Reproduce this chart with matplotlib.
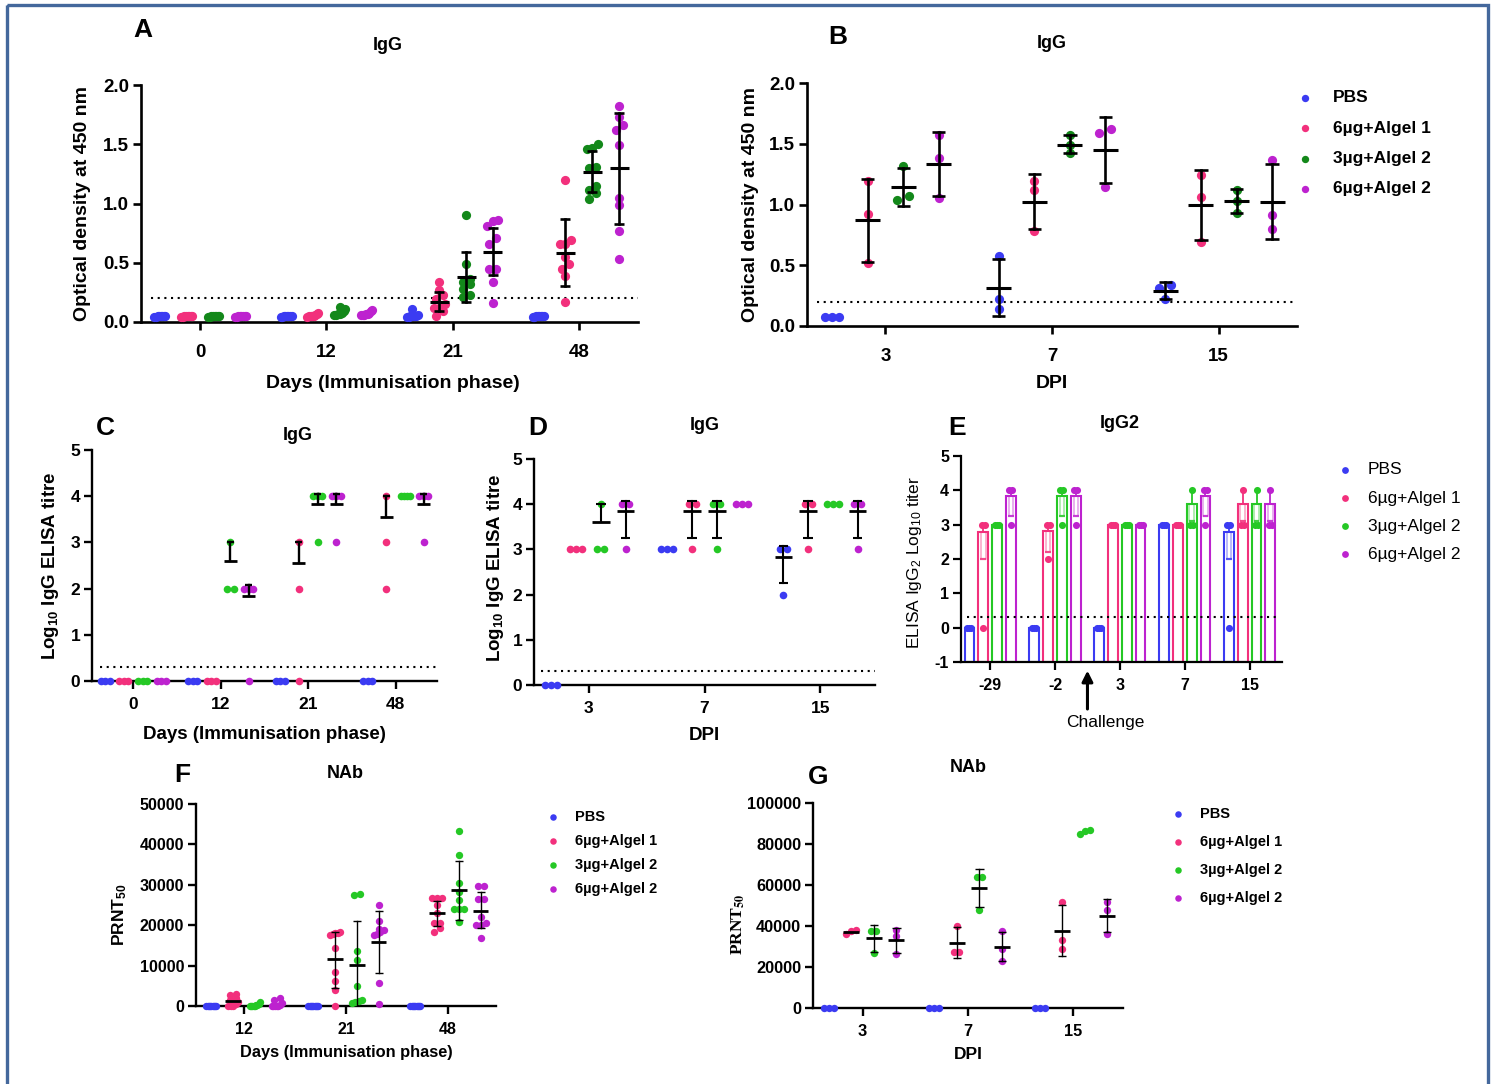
import matplotlib

matplotlib.use("Agg")

import matplotlib.pyplot as plt
import numpy as np
from matplotlib.patches import Rectangle

W, H = 1497, 1084

plt.rcParams.update({
    "font.family": "Liberation Sans",
    "mathtext.fontset": "custom",
    "mathtext.rm": "Liberation Sans",
    "mathtext.bf": "Liberation Sans:bold",
    "mathtext.it": "Liberation Sans:italic",
    "figure.facecolor": "white",
})

# --------------------------------------------------------------------------- #
# Data
# --------------------------------------------------------------------------- #
SERIES = ["PBS", "6µg+Algel 1", "3µg+Algel 2", "6µg+Algel 2"]
COL_DARK = ["#3b3bf2", "#f2307c", "#13881a", "#bd22cf"]
COL_LIGHT = ["#3b3bf2", "#f2307c", "#25c825", "#bd22cf"]

# A: IgG OD450, immunisation phase
a_days = ["0", "12", "21", "48"]
a_pbs = [[0.05, 0.05, 0.04, 0.05, 0.05, 0.04, 0.05, 0.05],
         [0.05, 0.05, 0.04, 0.05, 0.05, 0.04, 0.05, 0.05],
         [0.11, 0.06, 0.05, 0.05, 0.04, 0.05, 0.05, 0.04],
         [0.05, 0.05, 0.04, 0.05, 0.05, 0.04, 0.05, 0.05]]
a_alg1 = [[0.05, 0.05, 0.04, 0.05, 0.05, 0.04, 0.05, 0.05],
          [0.08, 0.07, 0.06, 0.05, 0.05, 0.05, 0.04, 0.05],
          [0.34, 0.27, 0.23, 0.19, 0.15, 0.12, 0.12, 0.09, 0.05],
          [1.20, 0.69, 0.66, 0.66, 0.55, 0.49, 0.45, 0.39, 0.17]]
a_alg2_3 = [[0.05, 0.05, 0.04, 0.05, 0.05, 0.04, 0.05, 0.05],
            [0.13, 0.11, 0.09, 0.08, 0.07, 0.07, 0.06, 0.06],
            [0.90, 0.49, 0.36, 0.34, 0.32, 0.28, 0.23, 0.21],
            [1.50, 1.47, 1.46, 1.31, 1.30, 1.15, 1.11, 1.09, 1.04]]
a_alg2_6 = [[0.05, 0.05, 0.04, 0.05, 0.05, 0.04, 0.05, 0.05],
            [0.10, 0.09, 0.08, 0.07, 0.07, 0.06, 0.06, 0.06],
            [0.86, 0.85, 0.81, 0.71, 0.66, 0.45, 0.45, 0.34, 0.16],
            [1.82, 1.73, 1.66, 1.62, 1.49, 1.05, 0.99, 0.77, 0.53]]
a_mean = [[None, None, None, None], [None, None, 0.17, 0.58],
          [None, None, 0.38, 1.27], [None, None, 0.59, 1.30]]
a_lo = [[None, None, None, None], [None, None, 0.09, 0.30],
        [None, None, 0.17, 1.10], [None, None, 0.40, 0.83]]
a_hi = [[None, None, None, None], [None, None, 0.25, 0.87],
        [None, None, 0.59, 1.44], [None, None, 0.79, 1.76]]

# B: IgG OD450, post challenge
b_dpi = ["3", "7", "15"]
b_pbs = [[0.07, 0.07, 0.07], [0.58, 0.22, 0.14], [0.34, 0.31, 0.22]]
b_alg1 = [[1.19, 0.92, 0.52], [1.19, 1.12, 0.78], [1.24, 1.06, 0.69]]
b_alg2_3 = [[1.32, 1.07, 1.04], [1.57, 1.49, 1.42], [1.12, 1.03, 0.93]]
b_alg2_6 = [[1.57, 1.38, 1.05], [1.62, 1.59, 1.14], [1.37, 0.91, 0.80]]
b_mean = [[None, 0.31, 0.29], [0.87, 1.02, 1.00], [1.14, 1.49, 1.03], [1.33, 1.45, 1.02]]
b_lo = [[None, 0.08, 0.22], [0.53, 0.80, 0.71], [0.99, 1.42, 0.93], [1.07, 1.18, 0.72]]
b_hi = [[None, 0.55, 0.36], [1.21, 1.25, 1.28], [1.30, 1.57, 1.13], [1.60, 1.72, 1.33]]

# C: log10 IgG ELISA titre, immunisation phase
c_days = ["0", "12", "21", "48"]
c_pbs = [[0, 0, 0], [0, 0, 0], [0, 0, 0], [0, 0, 0]]
c_alg1 = [[0, 0, 0], [0, 0, 0], [3, 2, 0], [4, 3, 2]]
c_alg2_3 = [[0, 0, 0], [3, 2, 2], [4, 4, 4, 3], [4, 4, 4, 4]]
c_alg2_6 = [[0, 0, 0], [2, 2, 2, 0], [4, 4, 4, 3], [4, 4, 4, 3]]
c_mean = [[None] * 4, [None, None, 2.55, 3.56], [None, 2.60, 3.84, None], [None, 1.83, 3.84, 3.84]]
c_lo = [[None] * 4, [None, None, 2.55, 3.56], [None, 2.60, 3.84, None], [None, 1.83, 3.84, 3.84]]
c_hi = [[None] * 4, [None, None, 3.00, 4.00], [None, 3.00, 4.05, None], [None, 2.07, 4.05, 4.05]]

# D: log10 IgG ELISA titre, post challenge
d_dpi = ["3", "7", "15"]
d_pbs = [[0, 0, 0], [3, 3, 3], [3, 3, 2]]
d_alg1 = [[3, 3, 3], [4, 4, 3], [4, 4, 3]]
d_alg2_3 = [[4, 3, 3], [4, 4, 3], [4, 4, 4]]
d_alg2_6 = [[4, 4, 3], [4, 4, 4], [4, 4, 3]]
d_mean = [[None, None, 2.84], [None, 3.84, 3.84], [3.60, 3.84, None], [3.84, None, 3.84]]
d_lo = [[None, None, 2.25], [None, 3.25, 3.25], [3.60, 3.25, None], [3.25, None, 3.25]]
d_hi = [[None, None, 3.08], [None, 4.08, 4.08], [4.00, 4.08, None], [4.08, None, 4.08]]

# E: IgG2 log10 titre (bars)
e_days = ["-29", "-2", "3", "7", "15"]
e_pbs = [[0, 0, 0], [0, 0, 0], [0, 0, 0], [3, 3, 3], [3, 3, 0]]
e_alg1 = [[3, 3, 0], [3, 3, 2], [3, 3, 3], [3, 3, 3], [4, 3, 3]]
e_alg2_3 = [[3, 3, 3], [4, 4, 3], [3, 3, 3], [4, 3, 3], [4, 3, 3]]
e_alg2_6 = [[4, 4, 3], [4, 4, 3], [3, 3, 3], [4, 4, 3], [4, 3, 3]]
e_mean = [[0, 0, 0, 3.0, 2.8], [2.8, 2.83, 3.0, 3.0, 3.6],
          [3.0, 3.83, 3.0, 3.6, 3.6], [3.83, 3.83, 3.0, 3.83, 3.6]]
e_lo = [[None, None, None, None, 2.0], [2.0, 2.2, None, None, 3.1],
        [None, 3.25, None, 3.1, 3.1], [3.25, 3.25, None, 3.25, 3.1]]
e_hi = [[None, None, None, None, 3.0], [3.0, 3.0, None, None, 4.0],
        [None, 4.0, None, 4.0, 4.0], [4.0, 4.0, None, 4.0, 4.0]]

# F: PRNT50, immunisation phase
f_days = ["12", "21", "48"]
f_pbs = [[0, 0, 0, 0, 0, 0, 0, 0, 0], [0, 0, 0, 0, 0, 0, 0, 0, 0], [0, 0, 0, 0, 0, 0, 0, 0, 0]]
f_alg1 = [[2900, 2800, 1900, 1400, 1000, 400, 0, 0, 0],
          [18300, 18100, 18000, 17800, 17500, 14400, 8300, 6300, 3900, 0],
          [26700, 26700, 26700, 24900, 22900, 20500, 20500, 19200, 18300]]
f_alg2_3 = [[1000, 600, 300, 200, 100, 0, 0, 0, 0],
            [27800, 27500, 13700, 11500, 5000, 1500, 1200, 1000, 800],
            [43400, 37400, 30500, 28200, 26200, 24000, 24000, 24000, 20900]]
f_alg2_6 = [[1900, 1500, 800, 300, 0, 0, 0, 0, 0],
            [24900, 21100, 19100, 18700, 18300, 17900, 17600, 5800, 400],
            [29800, 29800, 26600, 26600, 22000, 20500, 20000, 20000, 16900]]
f_mean = [[None, None, None], [1300, 11600, 23000], [None, 10100, 28700], [None, 15800, 23500]]
f_lo = [[None, None, None], [None, 4500, 19800], [None, -1500, 21200], [None, 8100, 19200]]
f_hi = [[None, None, None], [None, 18300, 26000], [None, 21100, 36000], [None, 23500, 28200]]

# G: PRNT50, post challenge
g_dpi = ["3", "7", "15"]
g_pbs = [[0, 0, 0], [0, 0, 0], [0, 0, 0]]
g_alg1 = [[38200, 37800, 36000], [40000, 27300, 27300], [51500, 33000, 28600]]
g_alg2_3 = [[37800, 37800, 26800], [64000, 64000, 48000], [86700, 86300, 84700]]
g_alg2_6 = [[37900, 35000, 26200], [37400, 28900, 23000], [51500, 47700, 36300]]
g_mean = [[None, None, None], [37300, 31500, 37700], [34000, 58500, None], [33000, 29700, 45100]]
g_lo = [[None, None, None], [None, 24200, 25400], [27500, 49500, None], [27000, 23000, 36900]]
g_hi = [[None, None, None], [None, 39700, 50300], [40400, 68000, None], [38900, 37000, 53300]]

OFFS = [-0.32, -0.107, 0.107, 0.32]
MEAN_HW, CAP_HW = 0.075, 0.04

fig = plt.figure(figsize=(W / 100, H / 100), dpi=100)


def add_ax(l, t, r, b):
    return fig.add_axes([l / W, 1 - b / H, (r - l) / W, (b - t) / H])


def style(ax, labels, ylim, yticks, ylabels, fs, lw, xpad=6):
    for s in ("top", "right"):
        ax.spines[s].set_visible(False)
    for s in ("left", "bottom"):
        ax.spines[s].set_linewidth(lw)
    n = len(labels)
    ax.set_xlim(-0.47, n - 1 + 0.47)
    ax.set_ylim(*ylim)
    ax.set_xticks(range(n))
    ax.set_xticklabels(labels, fontweight="bold", fontsize=fs)
    ax.set_yticks(yticks)
    ax.set_yticklabels(ylabels, fontweight="bold", fontsize=fs)
    ax.tick_params(width=lw, length=5.5, pad=3)
    ax.tick_params(axis="x", pad=xpad)
    ax.patch.set_alpha(0)


def swarm_x(ax, xc, vals, sep, maxw, tol):
    """Spread points that sit on (nearly) the same value into a centred row."""
    to_px = ax.transData.transform
    xpix = to_px((xc, 0))[0]
    ypix = np.array([to_px((xc, v))[1] for v in vals])
    rows = []
    for i in np.argsort(ypix):
        if rows and abs(ypix[i] - ypix[rows[-1][0]]) < tol:
            rows[-1].append(i)
        else:
            rows.append([i])
    xs = np.zeros(len(vals))
    for row in rows:
        m = len(row)
        s = sep if m < 2 else min(sep, maxw / (m - 1))
        for k, i in enumerate(row):
            xs[i] = xpix + (k - (m - 1) / 2) * s
    inv = ax.transData.inverted()
    return [inv.transform((x, 0))[0] for x in xs]


def mean_sd(ax, x, mean, lo, hi, lw_bar, lw_mean, color="black"):
    if mean is None:
        return
    ax.plot([x - MEAN_HW, x + MEAN_HW], [mean, mean], color=color, lw=lw_mean,
            solid_capstyle="butt", zorder=5)
    if lo is None or hi is None:
        return
    ax.plot([x, x], [lo, hi], color=color, lw=lw_bar, zorder=5)
    for v in (lo, hi):
        if v != mean:
            ax.plot([x - CAP_HW, x + CAP_HW], [v, v], color=color, lw=lw_bar,
                    solid_capstyle="butt", zorder=5)


def scatter_panel(ax, pts, means, los, his, colors, s, sep, maxw, tol, lw_bar, lw_mean):
    for j in range(4):
        for g, vals in enumerate(pts[j]):
            xc = g + OFFS[j]
            xs = swarm_x(ax, xc, vals, sep, maxw, tol)
            ax.scatter(xs, vals, s=s, color=colors[j], lw=0, clip_on=False, zorder=3)
            mean_sd(ax, xc, means[j][g], los[j][g], his[j][g], lw_bar, lw_mean)


def dotted(ax, y, x0=0.02, x1=1.0, z=1):
    ax.axhline(y, xmin=x0, xmax=x1, color="black", lw=1.5, ls=(0, (1, 2.2)), zorder=z)


# --------------------------------------------------------------------------- #
# Panel A
# --------------------------------------------------------------------------- #
ax_a = add_ax(141, 85, 638, 322)
style(ax_a, a_days, (0, 2.0), [0, 0.5, 1.0, 1.5, 2.0],
      ["0.0", "0.5", "1.0", "1.5", "2.0"], 13.5, 1.9, xpad=10)
dotted(ax_a, 0.2)
scatter_panel(ax_a, [a_pbs, a_alg1, a_alg2_3, a_alg2_6], a_mean, a_lo, a_hi,
              COL_DARK, 44, 7, 11, 6, 1.9, 2.2)
ax_a.set_xlabel("Days (Immunisation phase)", fontsize=14, fontweight="bold")
ax_a.xaxis.set_label_coords(0.507, -0.225)
ax_a.set_ylabel("Optical density at 450 nm", fontsize=14, fontweight="bold")
ax_a.yaxis.set_label_coords(-0.10, 0.5)

# --------------------------------------------------------------------------- #
# Panel B
# --------------------------------------------------------------------------- #
ax_b = add_ax(807, 83, 1297, 326)
style(ax_b, b_dpi, (0, 2.0), [0, 0.5, 1.0, 1.5, 2.0],
      ["0.0", "0.5", "1.0", "1.5", "2.0"], 13.5, 1.9, xpad=10)
dotted(ax_b, 0.2)
scatter_panel(ax_b, [b_pbs, b_alg1, b_alg2_3, b_alg2_6], b_mean, b_lo, b_hi,
              COL_DARK, 44, 12, 14, 6, 1.9, 2.2)
ax_b.set_xlabel("DPI", fontsize=14, fontweight="bold")
ax_b.xaxis.set_label_coords(0.5, -0.2)
ax_b.set_ylabel("Optical density at 450 nm", fontsize=14, fontweight="bold")
ax_b.yaxis.set_label_coords(-0.098, 0.5)

# --------------------------------------------------------------------------- #
# Panel C
# --------------------------------------------------------------------------- #
ax_c = add_ax(92, 450, 437, 681)
style(ax_c, c_days, (0, 5), range(6), [str(v) for v in range(6)], 12.5, 1.7)
dotted(ax_c, 0.3, 0.023)
scatter_panel(ax_c, [c_pbs, c_alg1, c_alg2_3, c_alg2_6], c_mean, c_lo, c_hi,
              COL_LIGHT, 30, 7, 9, 5, 1.7, 2.0)
ax_c.set_xlabel("Days (Immunisation phase)", fontsize=13.5, fontweight="bold")
ax_c.xaxis.set_label_coords(0.5, -0.195)
ax_c.set_ylabel(r"Log$_{\mathbf{10}}$ IgG ELISA titre", fontsize=13.5, fontweight="bold")
ax_c.yaxis.set_label_coords(-0.09, 0.5)

# --------------------------------------------------------------------------- #
# Panel D
# --------------------------------------------------------------------------- #
ax_d = add_ax(534, 459, 875, 685)
style(ax_d, d_dpi, (0, 5), range(6), [str(v) for v in range(6)], 12.5, 1.7)
dotted(ax_d, 0.3, 0.02)
scatter_panel(ax_d, [d_pbs, d_alg1, d_alg2_3, d_alg2_6], d_mean, d_lo, d_hi,
              COL_LIGHT, 30, 7, 12, 5, 1.5, 2.0)
ax_d.set_xlabel("DPI", fontsize=13.5, fontweight="bold")
ax_d.xaxis.set_label_coords(0.5, -0.185)
ax_d.set_ylabel(r"Log$_{\mathbf{10}}$ IgG ELISA titre", fontsize=13.5, fontweight="bold")
ax_d.yaxis.set_label_coords(-0.083, 0.52)

# --------------------------------------------------------------------------- #
# Panel E (hollow bars with points)
# --------------------------------------------------------------------------- #
ax_e = add_ax(961, 456, 1282, 662)
style(ax_e, e_days, (-1, 5), range(-1, 6), [str(v) for v in range(-1, 6)], 11.5, 1.6)
ax_e.set_xlim(-0.45, 4.5)
dotted(ax_e, 0.3, 0.02, 0.98, z=2.6)
e_pts = [e_pbs, e_alg1, e_alg2_3, e_alg2_6]
for j in range(4):
    col = COL_LIGHT[j]
    for g, vals in enumerate(e_pts[j]):
        xc = g + OFFS[j]
        m = e_mean[j][g]
        ax_e.bar(xc, m + 1, bottom=-1, width=0.15, facecolor="white",
                 edgecolor=col, lw=1.5, zorder=2)
        lo, hi = e_lo[j][g], e_hi[j][g]
        if lo is not None:
            ax_e.bar(xc, m - lo, bottom=lo, width=0.07, facecolor="none",
                     edgecolor=col, alpha=0.45, lw=1.1, zorder=2.5)
            ax_e.plot([xc - 0.045, xc + 0.045], [lo, lo], color=col, alpha=0.8,
                      lw=1.6, solid_capstyle="butt", zorder=2.5)
        if hi is not None and hi > m:
            ax_e.plot([xc, xc], [m, hi], color=col, lw=1.3, zorder=2.5)
        xs = swarm_x(ax_e, xc, vals, 3, 4, 4)
        ax_e.scatter(xs, vals, s=26, color=col, lw=0, clip_on=False, zorder=3)
ax_e.set_ylabel(r"ELISA IgG$_2$ Log$_{10}$ titer", fontsize=12.5)
ax_e.yaxis.set_label_coords(-0.115, 0.485)
ax_e.annotate("", xy=(1.5, -1.17), xytext=(1.5, -2.45), xycoords="data",
              arrowprops=dict(arrowstyle="-|>", color="black", lw=2.2, mutation_scale=16),
              annotation_clip=False)

# --------------------------------------------------------------------------- #
# Panel F
# --------------------------------------------------------------------------- #
ax_f = add_ax(196, 804, 496, 1006)
style(ax_f, f_days, (0, 50000), range(0, 50001, 10000),
      [str(v) for v in range(0, 50001, 10000)], 11.5, 1.7)
scatter_panel(ax_f, [f_pbs, f_alg1, f_alg2_3, f_alg2_6], f_mean, f_lo, f_hi,
              COL_LIGHT, 28, 6, 10, 5, 1.0, 2.0)
ax_f.set_xlabel("Days (Immunisation phase)", fontsize=11.8, fontweight="bold")
ax_f.xaxis.set_label_coords(0.5, -0.195)
ax_f.set_ylabel(r"PRNT$_{\mathbf{50}}$", fontsize=12.5, fontweight="bold")
ax_f.yaxis.set_label_coords(-0.223, 0.45)

# --------------------------------------------------------------------------- #
# Panel G
# --------------------------------------------------------------------------- #
ax_g = add_ax(813, 803, 1123, 1008)
style(ax_g, g_dpi, (0, 100000), range(0, 100001, 20000),
      [str(v) for v in range(0, 100001, 20000)], 11.8, 1.7)
scatter_panel(ax_g, [g_pbs, g_alg1, g_alg2_3, g_alg2_6], g_mean, g_lo, g_hi,
              COL_LIGHT, 28, 5, 10, 5, 1.0, 2.0)
ax_g.set_xlabel("DPI", fontsize=12.5, fontweight="bold")
ax_g.xaxis.set_label_coords(0.5, -0.19)
ax_g.set_ylabel(r"PRNT$_{\mathbf{50}}$", fontsize=12.5, fontweight="bold",
                fontfamily="Liberation Serif", math_fontfamily="stix")
ax_g.yaxis.set_label_coords(-0.213, 0.41)

# --------------------------------------------------------------------------- #
# Overlay: frame, panel letters, titles, legends
# --------------------------------------------------------------------------- #
ov = fig.add_axes([0, 0, 1, 1])
ov.set_xlim(0, W)
ov.set_ylim(H, 0)
ov.axis("off")
ov.add_patch(Rectangle((7, 5), 1481, 1110, facecolor="none", edgecolor="#44689c", lw=2.4))

letters = [("A", 143, 30), ("B", 838, 37), ("C", 105, 428), ("D", 538, 428),
           ("E", 957, 428), ("F", 182, 775), ("G", 818, 777)]
for t, x, y in letters:
    ov.text(x, y, t, fontsize=19, fontweight="bold", ha="center", va="center")

titles = [("IgG", 388, 45), ("IgG", 1052, 44), ("IgG", 298, 436), ("IgG", 705, 425),
          ("IgG2", 1120, 423), ("NAb", 345, 773), ("NAb", 968, 768)]
for t, x, y in titles:
    ov.text(x, y, t, fontsize=13, fontweight="bold", ha="center", va="center")

ov.text(1105, 723, "Challenge", fontsize=12.5, ha="center", va="center")


def legend(x_dot, x_txt, y0, dy, colors, fs, weight, s):
    for k, (lab, col) in enumerate(zip(SERIES, colors)):
        y = y0 + k * dy
        ov.scatter([x_dot], [y], s=s, color=col, lw=0)
        ov.text(x_txt, y, lab, fontsize=fs, fontweight=weight, ha="left", va="center")


legend(1305, 1333, 98, 30.3, COL_DARK, 12.5, "bold", 28)
legend(1345, 1368, 470, 28, COL_LIGHT, 12.5, "normal", 24)
legend(553, 575, 817, 24, COL_LIGHT, 10.5, "bold", 22)
legend(1178, 1200, 814, 28, COL_LIGHT, 10.5, "bold", 22)

fig.savefig("out.png", dpi=100)
plt.close(fig)
